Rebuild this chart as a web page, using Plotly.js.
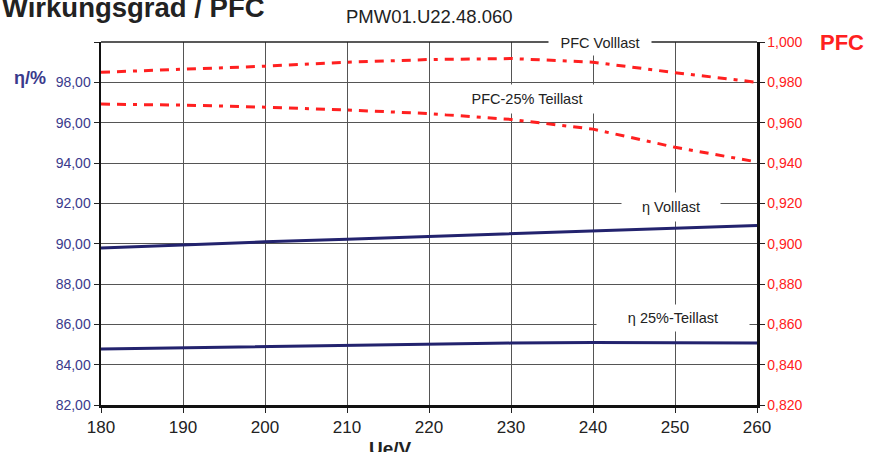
<!DOCTYPE html>
<html>
<head>
<meta charset="utf-8">
<script src="https://cdn.plot.ly/plotly-3.0.1.min.js"></script>
<style>html,body{margin:0;padding:0;background:#fff;}#chart{width:870px;height:452px;}</style>
</head>
<body>
<div id="chart"></div>
<script>
const voltage = [180, 190, 200, 210, 220, 230, 240, 250, 260];
const etaVolllast = [89.78, 89.95, 90.09, 90.22, 90.36, 90.49, 90.62, 90.76, 90.90];
const etaTeillast = [84.78, 84.84, 84.90, 84.96, 85.02, 85.07, 85.10, 85.10, 85.08];
const pfcVolllast = [0.9850, 0.9865, 0.9880, 0.9900, 0.9913, 0.9918, 0.9900, 0.9848, 0.9800];
const pfcTeillast = [0.9692, 0.9687, 0.9677, 0.9663, 0.9645, 0.9616, 0.9568, 0.9478, 0.9405];
const leftTicks = [82, 84, 86, 88, 90, 92, 94, 96, 98, 100];
const leftTickText = ["82,00", "84,00", "86,00", "88,00", "90,00", "92,00", "94,00", "96,00", "98,00", ""];
const rightTicks = [0.82, 0.84, 0.86, 0.88, 0.90, 0.92, 0.94, 0.96, 0.98, 1.00];
const xTicks = [180, 190, 200, 210, 220, 230, 240, 250, 260];
const seriesLabels = ["PFC Volllast", "PFC-25% Teillast", "η Volllast", "η 25%-Teillast"];

const FONT = "Liberation Sans, Arial, sans-serif";
const NAVY = "#23236e";
const RED = "#ff2020";
const BLUEFONT = "#3a3a8c";
const DASH = "9px,7px,9px,7px,4px,7px";

const traces = [
  {x: voltage, y: etaVolllast, type: "scatter", mode: "lines", line: {color: NAVY, width: 3}, yaxis: "y", name: seriesLabels[2]},
  {x: voltage, y: etaTeillast, type: "scatter", mode: "lines", line: {color: NAVY, width: 3}, yaxis: "y", name: seriesLabels[3]},
  {x: voltage, y: pfcVolllast, type: "scatter", mode: "lines", line: {color: RED, width: 3, dash: DASH}, yaxis: "y2", name: seriesLabels[0]},
  {x: voltage, y: pfcTeillast, type: "scatter", mode: "lines", line: {color: RED, width: 3, dash: DASH}, yaxis: "y2", name: seriesLabels[1]}
];

const annBase = {showarrow: false, bgcolor: "#ffffff", font: {family: FONT, size: 14.5, color: "#222"}, xref: "x", yref: "y"};

const layout = {
  width: 870, height: 452,
  margin: {l: 101, r: 113, t: 42, b: 47},
  paper_bgcolor: "#ffffff", plot_bgcolor: "#ffffff",
  separators: ",.",
  showlegend: false,
  font: {family: FONT},
  xaxis: {
    range: [180, 260], tickvals: xTicks, ticks: "outside", ticklen: 5, tickcolor: "#222",
    showgrid: true, gridcolor: "#555", gridwidth: 1,
    showline: true, linecolor: "#111", linewidth: 2.5,
    tickfont: {family: FONT, size: 17, color: "#222"}, zeroline: false
  },
  yaxis: {
    range: [82, 100], tickvals: leftTicks, ticktext: leftTickText, ticks: "outside", ticklen: 5, tickcolor: "#222",
    showgrid: true, gridcolor: "#555", gridwidth: 1,
    showline: true, linecolor: "#111", linewidth: 2.5, zeroline: false,
    tickfont: {family: FONT, size: 14, color: BLUEFONT}
  },
  yaxis2: {
    range: [0.82, 1.00], tickvals: rightTicks, tickformat: ".3f", overlaying: "y", side: "right",
    ticks: "outside", ticklen: 5, tickcolor: "#222",
    showgrid: false, showline: true, linecolor: "#111", linewidth: 2.5, zeroline: false,
    tickfont: {family: FONT, size: 14, color: RED}
  },
  shapes: [
    {type: "line", xref: "paper", yref: "paper", x0: 0, x1: 1, y0: 1, y1: 1, line: {color: "#222", width: 1.5}}
  ],
  annotations: [
    {text: "Wirkungsgrad / PFC", xref: "paper", yref: "paper", x: -101/656, y: 1, xanchor: "left", yanchor: "bottom", yshift: 17, showarrow: false,
     font: {family: FONT, size: 27.5, color: "#222", weight: "bold"}},
    {text: "PMW01.U22.48.060", xref: "paper", yref: "paper", x: (430-101)/656, y: 1, xanchor: "center", yanchor: "bottom", yshift: 13, showarrow: false,
     font: {family: FONT, size: 18.5, color: "#222"}},
    {text: "Ue/V", xref: "paper", yref: "paper", x: (390-101)/656, y: 0, xanchor: "center", yanchor: "top", yshift: -31, showarrow: false,
     font: {family: FONT, size: 19, color: "#222", weight: "bold"}},
    {text: "η/%", xref: "paper", yref: "paper", x: (12-101)/656, y: (405-78)/363, xanchor: "left", yanchor: "middle", showarrow: false,
     font: {family: FONT, size: 18, color: BLUEFONT, weight: "bold"}},
    {text: "PFC", xref: "paper", yref: "paper", x: (818-101)/656, y: (405-42)/363, xanchor: "left", yanchor: "middle", showarrow: false,
     font: {family: FONT, size: 22, color: RED, weight: "bold"}},
    Object.assign({}, annBase, {text: seriesLabels[0], x: 240.8, y: 99.95, width: 100, height: 22}),
    Object.assign({}, annBase, {text: seriesLabels[1], x: 232.0, y: 97.17, width: 160, height: 26}),
    Object.assign({}, annBase, {text: seriesLabels[2], x: 249.5, y: 91.82, width: 96, height: 26}),
    Object.assign({}, annBase, {text: seriesLabels[3], x: 249.8, y: 86.31, width: 150, height: 24})
  ]
};

Plotly.newPlot("chart", traces, layout, {displayModeBar: false, staticPlot: true});
</script>
</body>
</html>
